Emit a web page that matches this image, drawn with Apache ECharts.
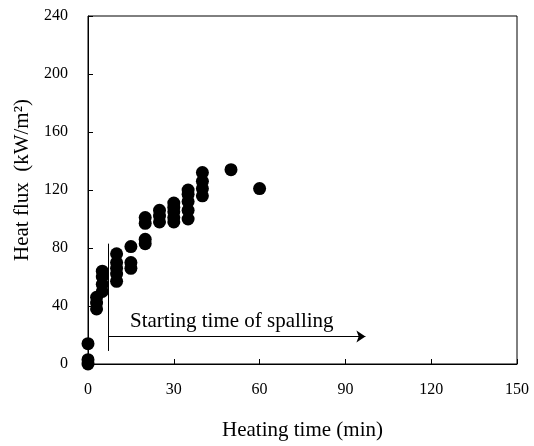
<!DOCTYPE html>
<html>
<head>
<meta charset="utf-8">
<script src="https://cdn.jsdelivr.net/npm/echarts@6/dist/echarts.min.js"></script>
<style>
  html, body { margin: 0; padding: 0; background: #fff; }
  #chart { width: 534px; height: 446px; }
</style>
</head>
<body>
<div id="chart"></div>
<script>
// heating time (min) and heat flux (kW/m2)
const heatingTime = [
  0, 0, 0,
  3, 3, 3,
  5, 5, 5, 5,
  10, 10, 10, 10, 10,
  15, 15, 15,
  20, 20, 20, 20,
  25, 25, 25,
  30, 30, 30, 30, 30,
  35, 35, 35, 35, 35,
  40, 40, 40, 40,
  50, 60
]
const heatFlux = [
  0, 3, 14,
  38, 42, 46,
  50, 55, 60, 64,
  57, 62, 66, 70, 76,
  66, 70, 81,
  83, 86, 97, 101,
  98, 102, 106,
  98, 101, 105, 108, 111,
  100, 106, 112, 117, 120,
  116, 121, 126, 132,
  134, 121
]
const xTicks = [0, 30, 60, 90, 120, 150]
const yTicks = [0, 40, 80, 120, 160, 200, 240]

// spalling marker: vertical line and arrow
const spallStart = 7
const spallLine = [[spallStart, 9], [spallStart, 83]]
const spallArrow = [[spallStart, 19], [97, 19]]

const points = heatingTime.map((t, i) => [t, heatFlux[i]])
const serif = 'Liberation Serif, Times New Roman, serif'

const chart = echarts.init(document.getElementById('chart'))
chart.setOption({
  animation: false,
  grid: {
    left: 88, right: 17, top: 16, bottom: 78,
    show: true, borderColor: '#000', borderWidth: 1
  },
  xAxis: {
    type: 'value',
    min: xTicks[0], max: xTicks[xTicks.length - 1], interval: 30,
    name: 'Heating time (min)',
    nameLocation: 'middle', nameGap: 56,
    nameTextStyle: { fontFamily: serif, fontSize: 21, color: '#000' },
    axisLine: { lineStyle: { color: '#000' } },
    axisTick: { inside: true, length: 5, lineStyle: { color: '#000' } },
    axisLabel: { fontFamily: serif, fontSize: 16, color: '#000', margin: 18 },
    splitLine: { show: false }
  },
  yAxis: {
    type: 'value',
    min: yTicks[0], max: yTicks[yTicks.length - 1], interval: 40,
    name: 'Heat flux  (kW/m²)',
    nameLocation: 'middle', nameGap: 52,
    nameTextStyle: { fontFamily: serif, fontSize: 21, color: '#000', padding: [0, 0, 0, 20] },
    axisLine: { lineStyle: { color: '#000' } },
    axisTick: { inside: true, length: 5, lineStyle: { color: '#000' } },
    axisLabel: { fontFamily: serif, fontSize: 16, color: '#000', margin: 20 },
    splitLine: { show: false }
  },
  series: [
    {
      type: 'scatter',
      data: points,
      symbol: 'circle',
      symbolSize: 13,
      itemStyle: { color: '#000', opacity: 1 },
      markLine: {
        silent: true,
        animation: false,
        label: { show: false },
        lineStyle: { color: '#000', width: 1, type: 'solid' },
        symbolSize: 9,
        data: [
          [
            { coord: spallLine[0], symbol: 'none' },
            { coord: spallLine[1], symbol: 'none' }
          ],
          [
            { coord: spallArrow[0], symbol: 'none' },
            { coord: spallArrow[1], symbol: 'arrow' }
          ]
        ]
      }
    }
  ],
  graphic: [
    {
      type: 'text',
      left: 130, top: 311,
      style: { text: 'Starting time of spalling', font: '21px ' + serif, fill: '#000' }
    }
  ]
})
</script>
</body>
</html>
